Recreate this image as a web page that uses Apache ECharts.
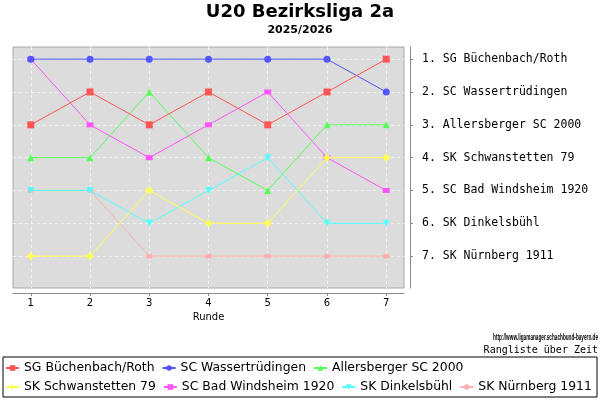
<!DOCTYPE html>
<html>
<head>
<meta charset="utf-8">
<script src="https://cdn.jsdelivr.net/npm/echarts@6/dist/echarts.min.js"></script>
<style>
html, body { margin: 0; padding: 0; background: #fff; }
#mainChart { width: 600px; height: 400px; }
</style>
</head>
<body>
<div id="mainChart"></div>
<script>
// Runden (x-Achse)
var rounds = [1, 2, 3, 4, 5, 6, 7];
var rankTicks = [1, 2, 3, 4, 5, 6, 7];

// Mannschaften, Reihenfolge = Abschlusstabelle
var teams = [
    "SG Büchenbach/Roth",
    "SC Wassertrüdingen",
    "Allersberger SC 2000",
    "SK Schwanstetten 79",
    "SC Bad Windsheim 1920",
    "SK Dinkelsbühl",
    "SK Nürnberg 1911"
];

// Platzierung je Runde
var rankBuechenbach = [3, 2, 3, 2, 3, 2, 1];
var rankWassertruedingen = [1, 1, 1, 1, 1, 1, 2];
var rankAllersberg = [4, 4, 2, 4, 5, 3, 3];
var rankSchwanstetten = [7, 7, 5, 6, 6, 4, 4];
var rankWindsheim = [1, 3, 4, 3, 2, 4, 5];
var rankDinkelsbuehl = [5, 5, 6, 5, 4, 6, 6];
var rankNuernberg = [5, 5, 7, 7, 7, 7, 7];

var ranks = [rankBuechenbach, rankWassertruedingen, rankAllersberg, rankSchwanstetten,
    rankWindsheim, rankDinkelsbuehl, rankNuernberg];

var colors = ["#ff5555", "#5555ff", "#55ff55", "#ffff55", "#ff55ff", "#55ffff", "#ffafaf"];
var symbols = ["rect", "circle", "triangle", "diamond", "rect", "triangle", "circle"];
var symbolSizes = [7, 7, 7, 8, [7, 5], 7, [7, 5]];
var symbolRotates = [0, 0, 0, 0, 0, 180, 0];

/**
 * Serien aufbauen
 */
var series = [];
for (var i = 0; i < teams.length; i++) {
    var data = [];
    for (var j = 0; j < rounds.length; j++) {
        data.push([rounds[j], ranks[i][j]]);
    }
    series.push({
        name: teams[i],
        type: "line",
        data: data,
        z: 20 - i,
        symbol: symbols[i],
        symbolSize: symbolSizes[i],
        symbolRotate: symbolRotates[i],
        showAllSymbol: true,
        lineStyle: { width: 1, color: colors[i] },
        itemStyle: { color: colors[i] },
        emphasis: { disabled: true }
    });
}

var myChart = echarts.init(document.getElementById("mainChart"));
var option = {
    animation: false,
    title: [
        {
            text: "U20 Bezirksliga 2a",
            left: "center",
            top: 3,
            padding: 0,
            textStyle: { fontFamily: "DejaVu Sans", fontSize: 18, fontWeight: "bold", color: "#000" }
        },
        {
            text: "2025/2026",
            left: "center",
            top: 25,
            padding: 0,
            textStyle: { fontFamily: "DejaVu Sans", fontSize: 11, fontWeight: "bold", color: "#000" }
        }
    ],
    grid: {
        left: 13,
        top: 47,
        right: 196,
        bottom: 112,
        show: true,
        backgroundColor: "#dcdcdc",
        borderColor: "#a8a8a8",
        borderWidth: 1
    },
    xAxis: {
        type: "value",
        min: 0.7,
        max: 7.3,
        position: "bottom",
        offset: 5,
        name: "Runde",
        nameLocation: "middle",
        nameGap: 18,
        nameTextStyle: { fontFamily: "DejaVu Sans", fontSize: 10, color: "#000" },
        axisLine: { lineStyle: { color: "#888", width: 1 } },
        axisTick: { length: 3, customValues: rounds, lineStyle: { color: "#888" } },
        axisLabel: {
            customValues: rounds,
            margin: 5,
            fontFamily: "DejaVu Sans",
            fontSize: 10,
            color: "#000"
        },
        splitLine: { show: true, lineStyle: { color: "#f4f4f4", type: [3, 3], width: 1 } }
    },
    yAxis: {
        type: "value",
        inverse: true,
        min: 0.63,
        max: 7.97,
        position: "right",
        offset: 6,
        axisLine: { show: true, lineStyle: { color: "#888", width: 1 } },
        axisTick: { show: true, length: 3, customValues: rankTicks, lineStyle: { color: "#888" } },
        axisLabel: {
            customValues: rankTicks,
            margin: 12,
            fontFamily: "DejaVu Sans Mono",
            fontSize: 11.5,
            color: "#000",
            formatter: function (v) {
                return v + ". " + teams[v - 1];
            }
        },
        splitLine: { show: true, lineStyle: { color: "#f4f4f4", type: [3, 3], width: 1 } }
    },
    legend: {
        data: teams,
        left: 5,
        top: 362,
        width: 590,
        padding: 0,
        itemGap: 7,
        itemWidth: 13,
        itemHeight: 7,
        selectedMode: false,
        textStyle: { fontFamily: "DejaVu Sans", fontSize: 12.4, color: "#000", lineHeight: 12 }
    },
    graphic: [
        {
            type: "text",
            x: 598,
            y: 338,
            scaleX: 0.52,
            style: {
                text: "http://www.ligamanager.schachbund-bayern.de",
                font: "bold 9px 'Liberation Sans'",
                fill: "#000",
                align: "right",
                verticalAlign: "middle"
            }
        },
        {
            type: "text",
            x: 598,
            y: 350,
            style: {
                text: "Rangliste über Zeit",
                font: "10px 'DejaVu Sans Mono'",
                fill: "#000",
                align: "right",
                verticalAlign: "middle"
            }
        },
        {
            type: "rect",
            shape: { x: 3, y: 357, width: 594, height: 40 },
            style: { fill: "none", stroke: "#000", lineWidth: 1 }
        }
    ],
    series: series
};
myChart.setOption(option);
</script>
</body>
</html>
